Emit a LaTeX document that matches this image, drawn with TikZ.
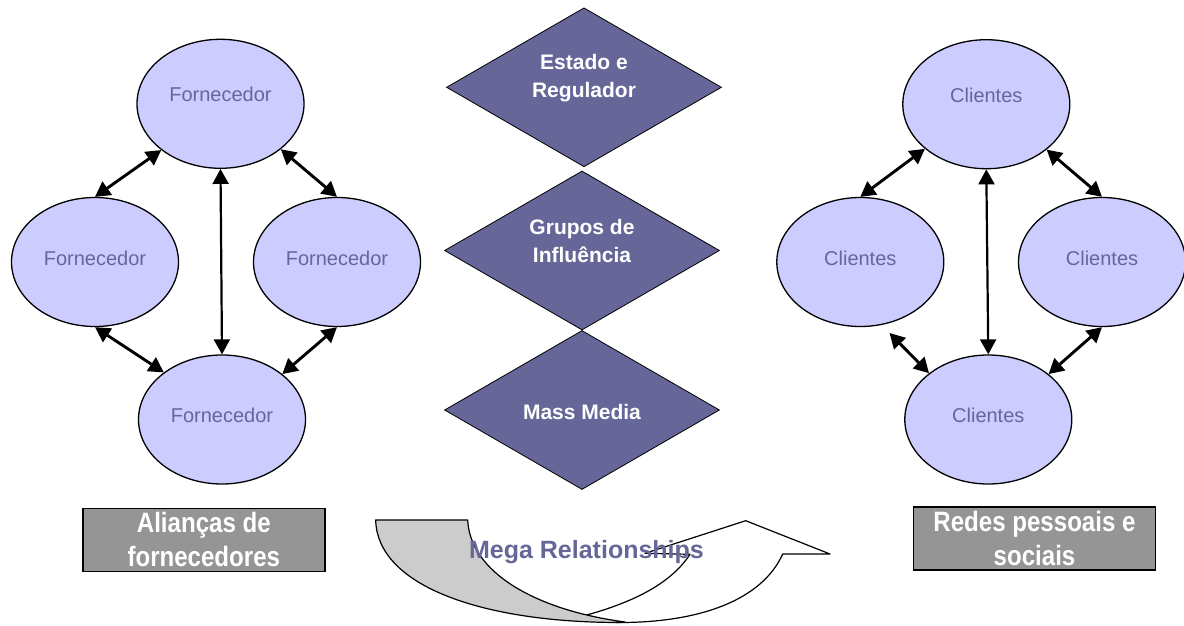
\documentclass[tikz,border=0pt]{standalone}
\usepackage{fontspec}
\setmainfont{Liberation Sans}
\newfontfamily\narrowsans[FakeStretch=0.86]{Liberation Sans}
\usetikzlibrary{shapes.geometric,arrows.meta}

\definecolor{lilac}{HTML}{CCCCFF}
\definecolor{slate}{HTML}{666699}
\definecolor{boxgray}{HTML}{959595}
\definecolor{bandgray}{HTML}{CCCCCC}

\newcommand{\lifted}[2]{\raisebox{#1}[\height][\depth]{#2}}

\tikzset{
  party/.style={ellipse, draw=black, line width=1.3pt, fill=lilac, inner sep=0pt,
    minimum width=167pt, minimum height=129pt, text=slate,
    font=\fontsize{20}{24}\selectfont},
  sector/.style={diamond, draw=black, line width=0.8pt, fill=slate, inner sep=0pt,
    minimum width=275pt, minimum height=159pt},
  sectortext/.style={text=white, align=center, inner sep=0pt,
    font=\fontsize{21}{28}\selectfont\bfseries},
  caption/.style={rectangle, draw=black, line width=1.6pt, fill=boxgray, inner sep=0pt,
    minimum width=242pt, minimum height=63pt, text=white, align=center,
    font=\narrowsans\fontsize{28}{34}\selectfont\bfseries},
  link/.style={line width=2.9pt, {Triangle[length=15pt,width=16pt]}-{Triangle[length=15pt,width=16pt]}},
  vlink/.style={line width=2.2pt, {Triangle[length=15pt,width=16pt]}-{Triangle[length=15pt,width=16pt]}},
  bandline/.style={draw=black, line width=1.2pt, line join=round}
}

\begin{document}
\begin{tikzpicture}[x=1pt, y=-1pt]
\useasboundingbox (0,0) rectangle (1184,626);

% ---- supplier network ----
\node[party] (fT) at (220.5,103.8) {\lifted{9pt}{Fornecedor}};
\node[party] (fL) at (95,262)      {\lifted{4pt}{Fornecedor}};
\node[party] (fR) at (337,262)     {\lifted{4pt}{Fornecedor}};
\node[party] (fB) at (222,419.5)   {\lifted{4pt}{Fornecedor}};

\draw[link]  (fT.218.5) -- (fL.north);
\draw[link]  (fT.-37.5) -- (fR.north);
\draw[link]  (fL.south) -- (fB.141.8);
\draw[link]  (fR.south) -- (fB.37);
\draw[vlink] (fT.south) -- (fB.north);

% ---- client network ----
\node[party] (cT) at (986.3,104.2) {\lifted{9pt}{Clientes}};
\node[party] (cL) at (860.3,262)   {\lifted{4pt}{Clientes}};
\node[party] (cR) at (1102,262)    {\lifted{4pt}{Clientes}};
\node[party] (cB) at (988.3,419.5) {\lifted{4pt}{Clientes}};
\coordinate (cLfree) at (889.5,333);

\draw[link]  (cT.216.8) -- (cL.north);
\draw[link]  (cT.-37) -- (cR.north);
\draw[link]  (cLfree) -- (cB.142.4);
\draw[link]  (cR.south) -- (cB.37.9);
\draw[vlink] (cT.south) -- (cB.north);

% ---- central stakeholders ----
\node[sector] (dState) at (584,87.3) {};
\node[sector] (dGroup) at (582,250.5) {};
\node[sector] (dMedia) at (582,410) {};
\node[sectortext] (tState) at ([yshift=9.5pt]dState.center) {Estado e\\Regulador};
\node[sectortext] (tGroup) at ([yshift=10pt]dGroup.center) {Grupos de\\Influência};
\node[sectortext] (tMedia) at ([yshift=-2.4pt]dMedia.center) {Mass Media};

% ---- captions ----
\node[caption] (capL) at (203.8,539.9) {Alianças de\\fornecedores};
\node[caption] (capR) at (1034.5,538.3) {Redes pessoais e\\sociais};

% ---- curved arrow ----
\coordinate (gA) at (375.7,520);
\coordinate (gB) at (467.7,520);
\coordinate (bot) at (620,622.5);
\coordinate (meet) at (625,622);
\coordinate (wIn) at (586.7,615);
\coordinate (wTop) at (690,554.3);
\coordinate (hL) at (645,553.3);
\coordinate (hApex) at (745.7,520.7);
\coordinate (hTip) at (830,554);
\coordinate (hR) at (782.7,554);

% front (white) part of the arrow
\path[bandline, fill=white]
  (wIn) .. controls (630,603) and (670,585) .. (wTop)
  -- (hL) -- (hApex) -- (hTip) -- (hR)
  .. controls (762,600) and (700,622.5) .. (bot)
  -- (600,622) -- cycle;
% back (grey) part of the arrow
\path[bandline, fill=bandgray]
  (gA) .. controls (377,585) and (480,622.5) .. (bot)
  -- (meet)
  .. controls (535,610) and (470,572) .. (gB) -- cycle;

\node[text=slate, anchor=base, inner sep=0pt, font=\fontsize{25}{30}\selectfont\bfseries]
  (mega) at (586.5,558.3) {Mega Relationships};
\end{tikzpicture}
\end{document}
